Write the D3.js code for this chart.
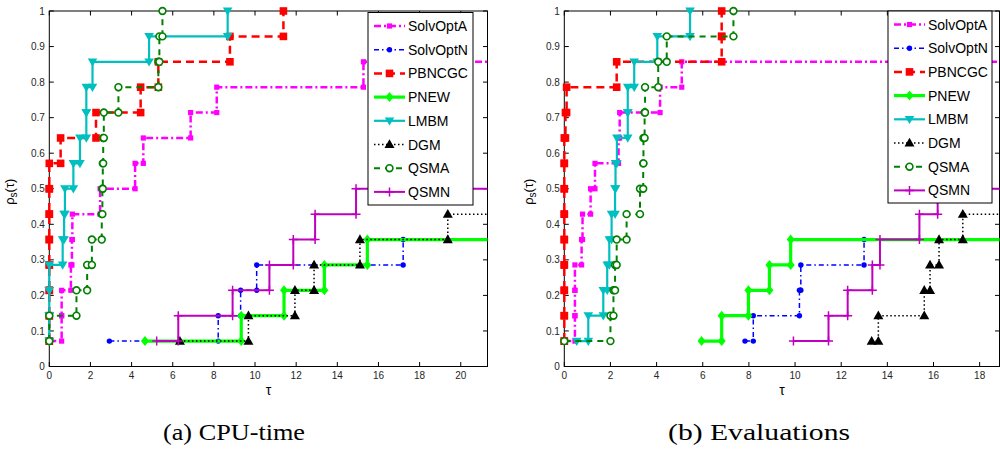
<!DOCTYPE html>
<html>
<head>
<meta charset="utf-8">
<script src="https://cdn.jsdelivr.net/npm/d3@7"></script>
<style>
	body { margin: 0; background: #fff; }
	svg { display: block; }
	text { font-family: "Liberation Sans", Arial, Helvetica, sans-serif; }
</style>
</head>
<body>
<div id="chart"></div>
<script>
// Data: sorted log2 performance ratios of each solver (14 test problems)
// ---------------------------------------------------------------------
const nProblems = 14;
const solvers = ["SolvOptA", "SolvOptN", "PBNCGC", "PNEW", "LMBM", "DGM", "QSMA", "QSMN"];
const yTicks = [0, 0.1, 0.2, 0.3, 0.4, 0.5, 0.6, 0.7, 0.8, 0.9, 1];
const yTickLabels = ["0", "0.1", "0.2", "0.3", "0.4", "0.5", "0.6", "0.7", "0.8", "0.9", "1"];

// (a) CPU-time
const cpuTicks = [0, 2, 4, 6, 8, 10, 12, 14, 16, 18, 20];
const cpuSolvOptA = [0, 0.6, 0.6, 1.05, 1.1, 1.12, 2.47, 4.17, 4.57, 6.87, 8.14, 15.27];
const cpuSolvOptN = [2.92, 8.21, 9.3, 10.08, 17.2];
const cpuPBNCGC = [0, 0, 0, 0, 0, 0, 0, 0, 0.55, 2.27, 4.44, 5.3, 8.78, 11.38];
const cpuPNEW = [4.65, 9.33, 11.41, 13.37, 15.46];
const cpuLMBM = [0, 0, 0, 0, 0.65, 0.72, 0.76, 1.17, 1.49, 1.8, 1.8, 2.1, 4.85, 8.67];
const cpuDGM = [6.35, 9.68, 11.94, 12.87, 15.1, 19.37];
const cpuQSMA = [0, 0, 1.32, 1.84, 2.07, 2.55, 2.58, 2.6, 2.62, 2.65, 3.36, 5.3, 5.35, 5.5];
const cpuQSMN = [5.22, 6.27, 8.91, 10.7, 11.86, 12.92, 14.91];

// (b) Evaluations
const evalTicks = [0, 2, 4, 6, 8, 10, 12, 14, 16, 18];
const evalSolvOptA = [0, 0.46, 0.46, 0.46, 0.75, 0.79, 1.14, 1.33, 2.35, 2.4, 4.15, 5.09];
const evalSolvOptN = [7.83, 8.19, 10.19, 10.25, 12.99];
const evalPBNCGC = [0, 0, 0, 0, 0, 0, 0, 0, 0, 0.05, 0.1, 2.27, 6.82, 6.82];
const evalPNEW = [5.95, 6.82, 7.98, 8.89, 9.81];
const evalLMBM = [0.54, 1.04, 1.69, 1.86, 1.95, 2.05, 2.2, 2.22, 2.28, 2.75, 2.75, 3.03, 4.03, 5.45];
const evalDGM = [13.32, 13.61, 15.6, 15.85, 16.24, 17.27];
const evalQSMA = [0, 2.0, 2.13, 2.2, 2.27, 2.7, 3.28, 3.42, 3.43, 3.48, 3.5, 4.07, 4.44, 7.33];
const evalQSMN = [9.93, 11.45, 12.28, 13.35, 13.68, 15.39, 16.18];

// Line styles (MATLAB-like)
const styles = {
	SolvOptA: {color: "#ff00ff", dash: "7 3 2 3", width: 2.5, marker: "dot"},
	SolvOptN: {color: "#0000ff", dash: "5 3 1.5 3", width: 1.5, marker: "circle"},
	PBNCGC:   {color: "#ff0000", dash: "8 5", width: 2.5, marker: "square"},
	PNEW:     {color: "#00ff00", dash: null, width: 3.2, marker: "diamond"},
	LMBM:     {color: "#00bfbf", dash: null, width: 2.2, marker: "tridown"},
	DGM:      {color: "#000000", dash: "1.5 2.5", width: 1.5, marker: "triup"},
	QSMA:     {color: "#008000", dash: "6 5", width: 2, marker: "ocircle"},
	QSMN:     {color: "#bf00bf", dash: null, width: 2, marker: "plus"}
};


class PerfProfile {

	constructor(svg, opts) {
		this.svg = svg;
		this.opts = opts;
		this.x = d3.scaleLinear().domain([0, opts.xMax]).range([opts.left, opts.right]);
		this.y = d3.scaleLinear().domain([0, 1]).range([opts.bottom, opts.top]);
		this.g = svg.append("g");

		this.g.append("clipPath")
			.attr("id", "clip-" + opts.id)
			.append("rect")
				.attr("x", opts.left - 20)
				.attr("y", opts.top - 10)
				.attr("width", opts.right - opts.left + 20)
				.attr("height", opts.bottom - opts.top + 20);
	}

	draw() {
		this.drawAxes();
		for (let s of solvers) this.drawSeries(s, this.opts.data[s]);
		this.drawLegend();
		this.drawCaption();
	}

	// Axes
	// ----

	drawAxes() {
		let o = this.opts, tl = 4.5;
		let ax = this.g.append("g");

		ax.append("rect")
			.attr("x", o.left).attr("y", o.top)
			.attr("width", o.right - o.left).attr("height", o.bottom - o.top)
			.attr("fill", "none").attr("stroke", "#000").attr("stroke-width", 1);

		for (let t of o.xTicks) {
			let px = this.x(t);
			ax.append("path").attr("d", `M${px},${o.bottom}v${-tl}M${px},${o.top}v${tl}`)
				.attr("stroke", "#000");
			ax.append("text")
				.attr("x", px).attr("y", o.bottom + 12.5)
				.attr("text-anchor", "middle")
				.style("font-size", "10px").style("fill", "#262626")
				.text(t);
		}

		yTicks.forEach((t, i) => {
			let py = this.y(t);
			ax.append("path").attr("d", `M${o.left},${py}h${tl}M${o.right},${py}h${-tl}`)
				.attr("stroke", "#000");
			ax.append("text")
				.attr("x", o.left - 4.5).attr("y", py + 3.6)
				.attr("text-anchor", "end")
				.style("font-size", "10px").style("fill", "#262626")
				.text(yTickLabels[i]);
		});

		// axis labels
		ax.append("text")
			.attr("x", (o.left + o.right) / 2).attr("y", o.bottom + 28)
			.attr("text-anchor", "middle")
			.style("font-size", "14px")
			.text("τ");

		let yl = ax.append("text")
			.attr("transform", `translate(${o.left - o.ylabelOffset},${(o.top + o.bottom) / 2 + 3}) rotate(-90)`)
			.attr("text-anchor", "middle")
			.style("font-size", "13px");
		yl.append("tspan").text("ρ");
		yl.append("tspan").attr("dy", 3).style("font-size", "10px").text("s");
		yl.append("tspan").attr("dy", -3).text("(τ)");
	}

	// Series
	// ------

	stairs(tau) {
		let pts = [];
		tau.forEach((t, i) => {
			if (i > 0) pts.push([t, i / nProblems]);
			pts.push([t, (i + 1) / nProblems]);
		});
		if (tau.length < nProblems) pts.push([this.opts.xMax * 2, tau.length / nProblems]);
		return pts;
	}

	drawSeries(name, tau) {
		let st = styles[name];
		let pts = this.stairs(tau);

		this.g.append("path")
			.datum(pts)
			.attr("clip-path", "url(#clip-" + this.opts.id + ")")
			.attr("fill", "none")
			.attr("stroke", st.color)
			.attr("stroke-width", st.width)
			.attr("stroke-dasharray", st.dash)
			.attr("d", d3.line().x(d => this.x(d[0])).y(d => this.y(d[1])));

		let inside = pts.filter(d => d[0] <= this.opts.xMax);
		for (let d of inside) {
			this.drawMarker(this.g, st, this.x(d[0]), this.y(d[1]));
		}
	}

	drawMarker(g, st, px, py) {
		let m = g.append("path").attr("transform", `translate(${px},${py})`);
		switch (st.marker) {
			case "square":
				m.attr("d", "M-3.8,-3.8H3.8V3.8H-3.8Z").attr("fill", st.color);
				break;
			case "dot":
				m.attr("d", "M-2.6,-2.6H2.6V2.6H-2.6Z").attr("fill", st.color);
				break;
			case "circle":
				m.attr("d", "M-2.7,0a2.7,2.7 0 1,0 5.4,0a2.7,2.7 0 1,0 -5.4,0").attr("fill", st.color);
				break;
			case "ocircle":
				m.attr("d", "M-3.4,0a3.4,3.4 0 1,0 6.8,0a3.4,3.4 0 1,0 -6.8,0")
					.attr("fill", "#fff").attr("stroke", st.color).attr("stroke-width", 1.6);
				break;
			case "diamond":
				m.attr("d", "M0,-5L4,0L0,5L-4,0Z").attr("fill", st.color);
				break;
			case "tridown":
				m.attr("d", "M-4.8,-3.4H4.8L0,4.8Z").attr("fill", st.color);
				break;
			case "triup":
				m.attr("d", "M0,-5.2L5,3.6H-5Z").attr("fill", st.color);
				break;
			case "plus":
				m.attr("d", "M-4.5,0H4.5M0,-4.5V4.5").attr("stroke", st.color).attr("stroke-width", 1.5);
				break;
		}
	}

	// Legend
	// ------

	drawLegend() {
		let L = this.opts.legend;
		let lg = this.g.append("g");
		lg.append("rect")
			.attr("x", L.x).attr("y", L.y).attr("width", L.w).attr("height", L.h)
			.attr("fill", "#fff").attr("stroke", "#000").attr("stroke-width", 1);

		solvers.forEach((s, i) => {
			let st = styles[s];
			let ry = L.y + 13.5 + i * 23.7;
			lg.append("path")
				.attr("d", `M${L.x + 6},${ry}H${L.x + 37}`)
				.attr("stroke", st.color)
				.attr("stroke-width", st.width)
				.attr("stroke-dasharray", st.dash);
			this.drawMarker(lg, st, L.x + 21.5, ry);
			lg.append("text")
				.attr("x", L.x + 40).attr("y", ry + 5)
				.style("font-size", "14px")
				.text(s);
		});
	}

	drawCaption() {
		let c = this.opts.caption;
		this.g.append("text")
			.attr("x", c.x).attr("y", c.y)
			.attr("textLength", c.len)
			.attr("lengthAdjust", "spacingAndGlyphs")
			.style("font-family", "'Liberation Serif', 'Times New Roman', serif")
			.style("font-size", "24px")
			.text(c.text);
	}
}


const svg = d3.select("#chart").append("svg")
	.attr("width", 1000)
	.attr("height", 451);

new PerfProfile(svg, {
	id: "cpu",
	left: 49.3, right: 487.5, top: 11, bottom: 366.5,
	xMax: 21.3,
	xTicks: cpuTicks,
	ylabelOffset: 35,
	data: {
		SolvOptA: cpuSolvOptA, SolvOptN: cpuSolvOptN, PBNCGC: cpuPBNCGC, PNEW: cpuPNEW,
		LMBM: cpuLMBM, DGM: cpuDGM, QSMA: cpuQSMA, QSMN: cpuQSMN
	},
	legend: {x: 368, y: 12.5, w: 105, h: 192.5},
	caption: {x: 163, y: 440, len: 142, text: "(a) CPU-time"}
}).draw();

new PerfProfile(svg, {
	id: "eval",
	left: 564.3, right: 999.5, top: 11, bottom: 366.5,
	xMax: 18.86,
	xTicks: evalTicks,
	ylabelOffset: 31,
	data: {
		SolvOptA: evalSolvOptA, SolvOptN: evalSolvOptN, PBNCGC: evalPBNCGC, PNEW: evalPNEW,
		LMBM: evalLMBM, DGM: evalDGM, QSMA: evalQSMA, QSMN: evalQSMN
	},
	legend: {x: 888, y: 11, w: 104, h: 192},
	caption: {x: 668, y: 440, len: 182, text: "(b) Evaluations"}
}).draw();
</script>
</body>
</html>
